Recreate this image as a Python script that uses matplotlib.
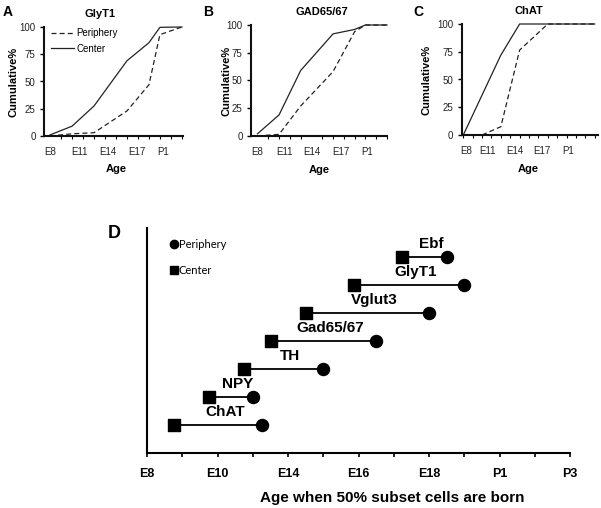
import matplotlib
matplotlib.use("Agg")
import matplotlib.pyplot as plt
from matplotlib.lines import Line2D

plt.rcParams['font.family'] = ['Liberation Sans', 'DejaVu Sans']

W, H = 601, 508

# panel A: GlyT1 cumulative %
glyt1_x = [0, 2, 4, 7, 9, 10, 12]
glyt1_center = [1, 9, 27.5, 69, 85.6, 99.7, 100]
glyt1_periph = [0, 2, 3, 23, 47, 93, 100]

# panel B: GAD65/67 cumulative %
gad_x = [0, 2, 4, 7, 9, 10, 12]
gad_center = [2, 19, 59, 92, 96, 100, 100]
gad_periph = [0, 1.5, 27, 58, 94, 100, 100]

# panel C: ChAT cumulative %
chat_center_x = [0, 4, 6, 14]
chat_center = [0, 72, 100, 100]
chat_periph_x = [2, 4, 6, 9, 14]
chat_periph = [0, 7.5, 76.5, 100, 100]

age_labels = ["E8", "E11", "E14", "E17", "P1"]
y_ticks = [0, 25, 50, 75, 100]

# panel D: age when 50% of cells are born
subsets = ["ChAT", "NPY", "TH", "Gad65/67", "Vglut3", "GlyT1", "Ebf"]
center_50 = [0.77, 1.76, 2.75, 3.52, 4.51, 5.86, 7.23]
periph_50 = [3.26, 3.01, 4.99, 6.50, 8.00, 8.99, 8.51]
d_labels = ["E8", "E10", "E14", "E16", "E18", "P1", "P3"]

fig = plt.figure(figsize=(W / 100, H / 100), dpi=100)


def px_axes(l, r, t, b):
    return fig.add_axes([l / W, 1 - b / H, (r - l) / W, (b - t) / H])


def cum_panel(ax, xlim, label_pos, title, title_x, ylab_x, xlab_x):
    ax.set_xlim(*xlim)
    ax.set_ylim(0, 100)
    for s in ["top", "right"]:
        ax.spines[s].set_visible(False)
    for s in ["left", "bottom"]:
        ax.spines[s].set_linewidth(1.5)
        ax.spines[s].set_color("#111")
    ax.set_yticks(y_ticks)
    ax.tick_params(axis="y", length=3, width=1, labelsize=7, pad=3,
                   labelcolor="#222")
    ax.set_xticks(label_pos)
    ax.set_xticklabels(age_labels)
    ax.tick_params(axis="x", which="major", length=0, labelsize=7, pad=8,
                   labelcolor="#222")
    ax.set_xticks(range(0, int(xlim[1]) + 1), minor=True)
    ax.tick_params(axis="x", which="minor", length=2.5, width=0.8,
                   direction="out")
    ax.set_ylabel("Cumulative%", fontsize=8, fontweight="bold")
    ax.yaxis.set_label_coords(ylab_x, 0.5)
    ax.set_xlabel("Age", fontsize=8, fontweight="bold")
    ax.xaxis.set_label_coords(xlab_x, -0.26)
    ax.text(title_x, 1.12, title, transform=ax.transAxes, ha="center",
            va="center", fontsize=8, fontweight="bold")


dash = (0, (4, 2.5))

axA = px_axes(44, 183, 27, 136)
axA.plot(glyt1_x, glyt1_periph, color="#222", lw=0.9, ls=dash,
         label="Periphery", clip_on=False)
axA.plot(glyt1_x, glyt1_center, color="#222", lw=0.9, label="Center",
         clip_on=False)
cum_panel(axA, (-0.55, 12.1), [0, 2.7, 5.3, 7.9, 10.3], "GlyT1", 0.40,
          -0.18, 0.52)
axA.legend(loc="upper left", bbox_to_anchor=(0.0, 1.05), frameon=False,
           fontsize=7, handlelength=2.4, handletextpad=0.2, labelspacing=0.55,
           borderaxespad=0.3)

axB = px_axes(251, 387, 25, 136)
axB.plot(gad_x, gad_periph, color="#222", lw=0.9, ls=dash, clip_on=False)
axB.plot(gad_x, gad_center, color="#222", lw=0.9, clip_on=False)
cum_panel(axB, (-0.6, 12.0), [0, 2.5, 5.0, 7.7, 10.2], "GAD65/67", 0.52,
          -0.14, 0.50)

axC = px_axes(461.7, 598, 24, 135)
axC.plot(chat_periph_x, chat_periph, color="#222", lw=0.9, ls=dash,
         clip_on=False)
axC.plot(chat_center_x, chat_center, color="#222", lw=0.9, clip_on=False)
cum_panel(axC, (-0.17, 14.35), [0.3, 2.6, 5.5, 8.4, 11.2], "ChAT", 0.49,
          -0.22, 0.49)

# panel D
axD = px_axes(147, 570, 228, 453)
rows = list(range(1, len(subsets) + 1))
for y, c, p in zip(rows, center_50, periph_50):
    axD.plot([c, p], [y, y], color="black", lw=1.3, zorder=1)
axD.scatter(center_50, rows, marker="s", s=68, color="black", zorder=3)
axD.scatter(periph_50, rows, marker="o", s=75, color="black", zorder=3)
for name, y, c, p in zip(subsets, rows, center_50, periph_50):
    axD.text((c + p) / 2 + 0.2, y + 0.46, name, ha="center", va="center",
             fontsize=11, fontweight="bold")

axD.set_xlim(0, 12)
axD.set_ylim(0, 8.04)
for s in ["top", "right"]:
    axD.spines[s].set_visible(False)
for s in ["left", "bottom"]:
    axD.spines[s].set_linewidth(1.5)
axD.set_yticks([])
axD.set_xticks(range(0, 13, 2))
axD.set_xticklabels(d_labels)
axD.set_xticks(range(0, 13), minor=True)
axD.tick_params(axis="x", which="both", length=3, width=1.2, labelsize=9,
                pad=8)
for t in axD.get_xticklabels():
    t.set_fontweight("bold")
axD.set_xlabel("Age when 50% subset cells are born", fontsize=11,
               fontweight="bold", va="center")
axD.xaxis.set_label_coords(0.58, -0.2)

handles = [
    Line2D([], [], marker="o", color="black", ls="none", markersize=6),
    Line2D([], [], marker="s", color="black", ls="none", markersize=6),
]
axD.legend(handles, ["Periphery", "Center"], loc="upper left",
           bbox_to_anchor=(0.04, 0.98), frameon=False,
           prop={"family": "Lato", "size": 8}, handlelength=0.6,
           handletextpad=0.15, labelspacing=1.3, borderaxespad=0.2)

# panel letters
for letter, x, y, size in [("A", 3, 12, 10), ("B", 203, 12, 10),
                           ("C", 413, 12, 10), ("D", 108, 233, 13)]:
    fig.text(x / W, 1 - y / H, letter, ha="left", va="center",
             fontsize=size, fontweight="bold")

fig.savefig("out.png", dpi=100)
plt.close(fig)
